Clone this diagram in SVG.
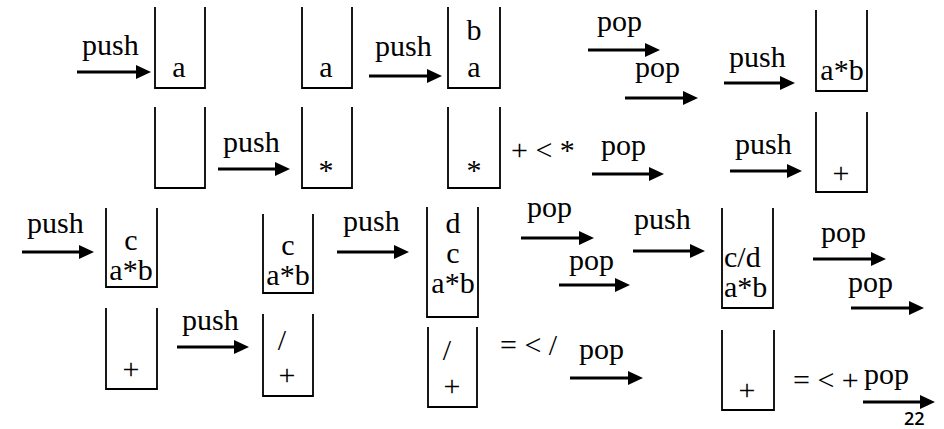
<svg xmlns="http://www.w3.org/2000/svg" width="944" height="429" viewBox="0 0 944 429">
  <defs>
    <marker id="head" markerUnits="userSpaceOnUse" markerWidth="16" markerHeight="14" refX="2" refY="7" orient="auto">
      <path d="M0,0 L15,7 L0,14 z" fill="#000"/>
    </marker>
    <style>
      text { font-family: 'Liberation Serif', Tinos, 'Times New Roman', 'DejaVu Serif', serif; font-size: 30px; fill: #000; }
      .m { text-anchor: middle; }
      .stack { fill: none; stroke: #000; stroke-width: 1.8; }
      .arr { stroke: #000; stroke-width: 3; fill: none; marker-end: url(#head); }
      text.pg { font-family: 'Open Sans', 'Liberation Sans', sans-serif; font-size: 18px; font-weight: 600; }
    </style>
  </defs>
  <rect width="944" height="429" fill="#fff"/>

  <!-- connectors: push / pop steps -->
  <g id="connectors">
    <line class="arr" x1="77" y1="72" x2="138" y2="72"/>
    <line class="arr" x1="369" y1="76" x2="429" y2="76"/>
    <line class="arr" x1="588" y1="50" x2="647" y2="50"/>
    <line class="arr" x1="625" y1="98" x2="685" y2="98"/>
    <line class="arr" x1="724" y1="83" x2="782" y2="83"/>

    <line class="arr" x1="218" y1="169" x2="277" y2="169"/>
    <line class="arr" x1="592" y1="174" x2="651" y2="174"/>
    <line class="arr" x1="730" y1="171" x2="789" y2="171"/>

    <line class="arr" x1="22" y1="252" x2="81" y2="252"/>
    <line class="arr" x1="337" y1="252" x2="396" y2="252"/>
    <line class="arr" x1="521" y1="238" x2="581" y2="238"/>
    <line class="arr" x1="559" y1="285" x2="617" y2="285"/>
    <line class="arr" x1="633" y1="251" x2="692" y2="251"/>
    <line class="arr" x1="813" y1="259" x2="873" y2="259"/>
    <line class="arr" x1="851" y1="308" x2="911" y2="308"/>

    <line class="arr" x1="177" y1="347" x2="236" y2="347"/>
    <line class="arr" x1="570" y1="378" x2="630" y2="378"/>
    <line class="arr" x1="863" y1="402" x2="922" y2="402"/>
  </g>

  <!-- arrow labels and comparisons -->
  <g id="labels">
    <text x="82" y="55">push</text>
    <text x="375" y="56">push</text>
    <text x="597" y="31">pop</text>
    <text x="635" y="77">pop</text>
    <text x="729" y="67">push</text>

    <text x="223" y="152">push</text>
    <text x="511" y="160">+ &lt; *</text>
    <text x="601" y="155">pop</text>
    <text x="735" y="154">push</text>

    <text x="27" y="233">push</text>
    <text x="343" y="231">push</text>
    <text x="527" y="217">pop</text>
    <text x="569" y="270">pop</text>
    <text x="634" y="229">push</text>
    <text x="821" y="242">pop</text>
    <text x="848" y="292">pop</text>

    <text x="182" y="330">push</text>
    <text x="500" y="355">= &lt; /</text>
    <text x="579" y="359">pop</text>
    <text x="793" y="390">= &lt; +</text>
    <text x="864" y="384">pop</text>
  </g>

  <!-- stacks, row 1 -->
  <g id="stack1">
    <path class="stack" d="M155,7 V88 H205 V7"/>
    <text class="m" x="179" y="77">a</text>
  </g>
  <g id="stack2">
    <path class="stack" d="M302,7 V88 H352 V7"/>
    <text class="m" x="326" y="77">a</text>
  </g>
  <g id="stack3">
    <path class="stack" d="M448,7 V88 H500 V7"/>
    <text class="m" x="474" y="40">b</text>
    <text class="m" x="474" y="77">a</text>
  </g>
  <g id="stack4">
    <path class="stack" d="M816,10 V91 H867 V10"/>
    <text class="m" x="842" y="80">a*b</text>
  </g>

  <!-- stacks, row 2 -->
  <g id="stack5">
    <path class="stack" d="M155,107 V188 H205 V107"/>
  </g>
  <g id="stack6">
    <path class="stack" d="M302,107 V188 H352 V107"/>
    <text class="m" x="326" y="180">*</text>
  </g>
  <g id="stack7">
    <path class="stack" d="M448,107 V188 H500 V107"/>
    <text class="m" x="474" y="180">*</text>
  </g>
  <g id="stack8">
    <path class="stack" d="M816,112 V192 H867 V112"/>
    <text class="m" x="841" y="183">+</text>
  </g>

  <!-- stacks, row 3 -->
  <g id="stack9">
    <path class="stack" d="M106,208 V287 H157 V208"/>
    <text class="m" x="131" y="250">c</text>
    <text class="m" x="131" y="280">a*b</text>
  </g>
  <g id="stack10">
    <path class="stack" d="M263,214 V293 H313 V214"/>
    <text class="m" x="288" y="255">c</text>
    <text class="m" x="288" y="285">a*b</text>
  </g>
  <g id="stack11">
    <path class="stack" d="M427,207 V317 H478 V207"/>
    <text class="m" x="453" y="233">d</text>
    <text class="m" x="453" y="263">c</text>
    <text class="m" x="453" y="293">a*b</text>
  </g>
  <g id="stack12">
    <path class="stack" d="M722,208 V308 H773 V208"/>
    <text x="724" y="267">c/d</text>
    <text x="724" y="297">a*b</text>
  </g>

  <!-- stacks, row 4 -->
  <g id="stack13">
    <path class="stack" d="M106,308 V389 H157 V308"/>
    <text class="m" x="131" y="379">+</text>
  </g>
  <g id="stack14">
    <path class="stack" d="M263,314 V396 H313 V314"/>
    <text class="m" x="282" y="350">/</text>
    <text class="m" x="287" y="385">+</text>
  </g>
  <g id="stack15">
    <path class="stack" d="M428,327 V407 H477 V327"/>
    <text class="m" x="447" y="360">/</text>
    <text class="m" x="452" y="396">+</text>
  </g>
  <g id="stack16">
    <path class="stack" d="M722,330 V410 H774 V330"/>
    <text class="m" x="747" y="400">+</text>
  </g>

  <text class="pg" x="904" y="425">22</text>
</svg>
